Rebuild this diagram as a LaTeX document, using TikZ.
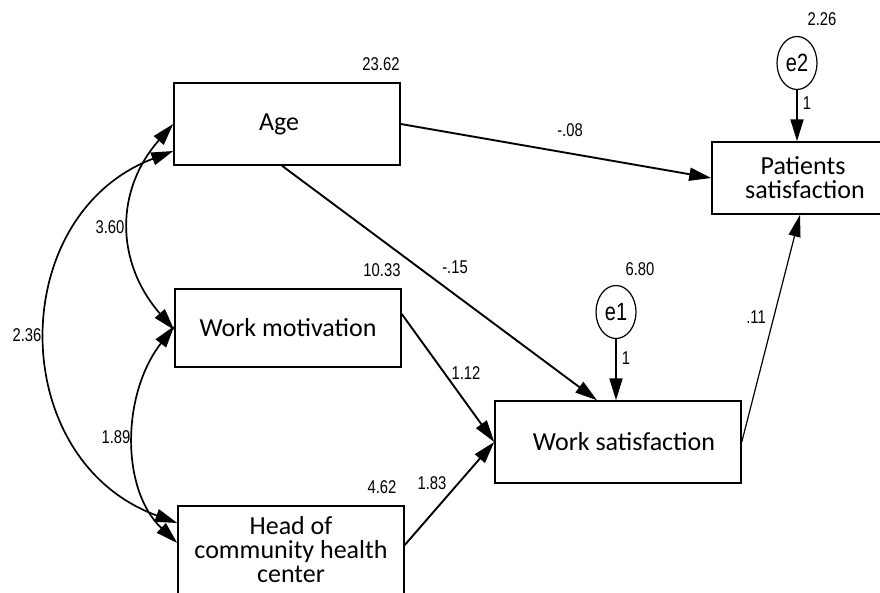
\documentclass[tikz,border=0pt]{standalone}
\usepackage{fontspec}
\usetikzlibrary{arrows.meta,shapes.geometric}
\newfontfamily\boxfont{Carlito}
\newfontfamily\numfont[FakeStretch=0.8]{Liberation Sans}

\tikzset{every picture/.style={line width=1.5pt}}
\tikzset{
  varbox/.style={draw,rectangle,inner sep=0pt,align=center,font=\boxfont\fontsize{26}{24}\selectfont},
  errnode/.style={draw,ellipse,line width=1.2pt,minimum width=40pt,minimum height=53pt,inner sep=0pt,font=\numfont\fontsize{25}{25}\selectfont},
  numlabel/.style={inner sep=0pt,font=\numfont\fontsize{18.5}{18.5}\selectfont},
  pathline/.style={line width=1.9pt,-{Triangle[length=22pt,width=13pt]}},
  thinline/.style={line width=1.2pt,-{Triangle[length=22pt,width=12pt]}},
  covar/.style={line width=1.7pt,{Triangle[length=22pt,width=13pt]}-{Triangle[length=22pt,width=13pt]}}
}

\begin{document}
\begin{tikzpicture}[x=1pt,y=1pt,yscale=-1,xscale=1]
  \useasboundingbox (0,0) rectangle (880,592);
  % boxes
  \node [varbox,minimum width=226pt,minimum height=82pt] (age) at (287,124) {Age\hspace*{16pt}};
  \node [varbox,minimum width=226pt,minimum height=78pt] (motiv) at (288,328) {Work motivation};
  \node [varbox,minimum width=226pt,minimum height=88pt] (head) at (291,550) {Head of\\community health\\center};
  \node [varbox,minimum width=246pt,minimum height=82pt] (wsat) at (618,442) {\hspace*{12pt}Work satisfaction};
  \node [varbox,minimum width=176pt,minimum height=72pt,xshift=0pt] (psat) at (800,178) {\hspace*{6pt}Patients\\\hspace*{10pt}satisfaction};
  % errors
  \node [errnode] (e1) at (616,312) {e1};
  \node [errnode] (e2) at (797,63) {e2};
  % variances
  \node [numlabel] (vage) at (381,64) {23.62};
  \node [numlabel] (vmotiv) at (382,270) {10.33};
  \node [numlabel] (vhead) at (382,487) {4.62};
  \node [numlabel] (ve1) at (640,269) {6.80};
  \node [numlabel] (ve2) at (822,19) {2.26};

  % paths
  \draw [pathline] (age.east) -- (psat.west);
  \draw [pathline] ([xshift=-5pt]age.south) -- ([xshift=-21pt]wsat.north);
  \draw [pathline] ([yshift=-14pt]motiv.east) -- (wsat.west);
  \draw [pathline] ([yshift=-5pt]head.east) -- (wsat.west);
  \draw [thinline] (wsat.east) -- (psat.south);
  \draw [pathline] (e1.south) -- (e1.south |- wsat.north);
  \draw [pathline] (e2.south) -- (e2.south |- psat.north);
  \node [numlabel] (pap) at (570,130) {-.08};
  \node [numlabel] (paw) at (455,267) {-.15};
  \node [numlabel] (pmw) at (466,373) {1.12};
  \node [numlabel] (phw) at (432,483) {1.83};
  \node [numlabel] (pwp) at (756,317) {.11};
  \node [numlabel] (pe1) at (626,358) {1};
  \node [numlabel] (pe2) at (807,103) {1};

  % covariances
  \draw [covar] ([yshift=27pt]age.west) .. controls (5,215) and (5,460) .. ([yshift=-27pt]head.west);
  \draw [covar] (age.west) .. controls (115,190) and (115,262) .. ([yshift=2pt]motiv.west);
  \draw [covar] ([yshift=-2pt]motiv.west) .. controls (121,395) and (121,490) .. ([yshift=-7pt]head.west);
  \node [numlabel] (cah) at (27,335) {2.36};
  \node [numlabel] (cam) at (110,227) {3.60};
  \node [numlabel] (cmh) at (116,437) {1.89};
\end{tikzpicture}
\end{document}
